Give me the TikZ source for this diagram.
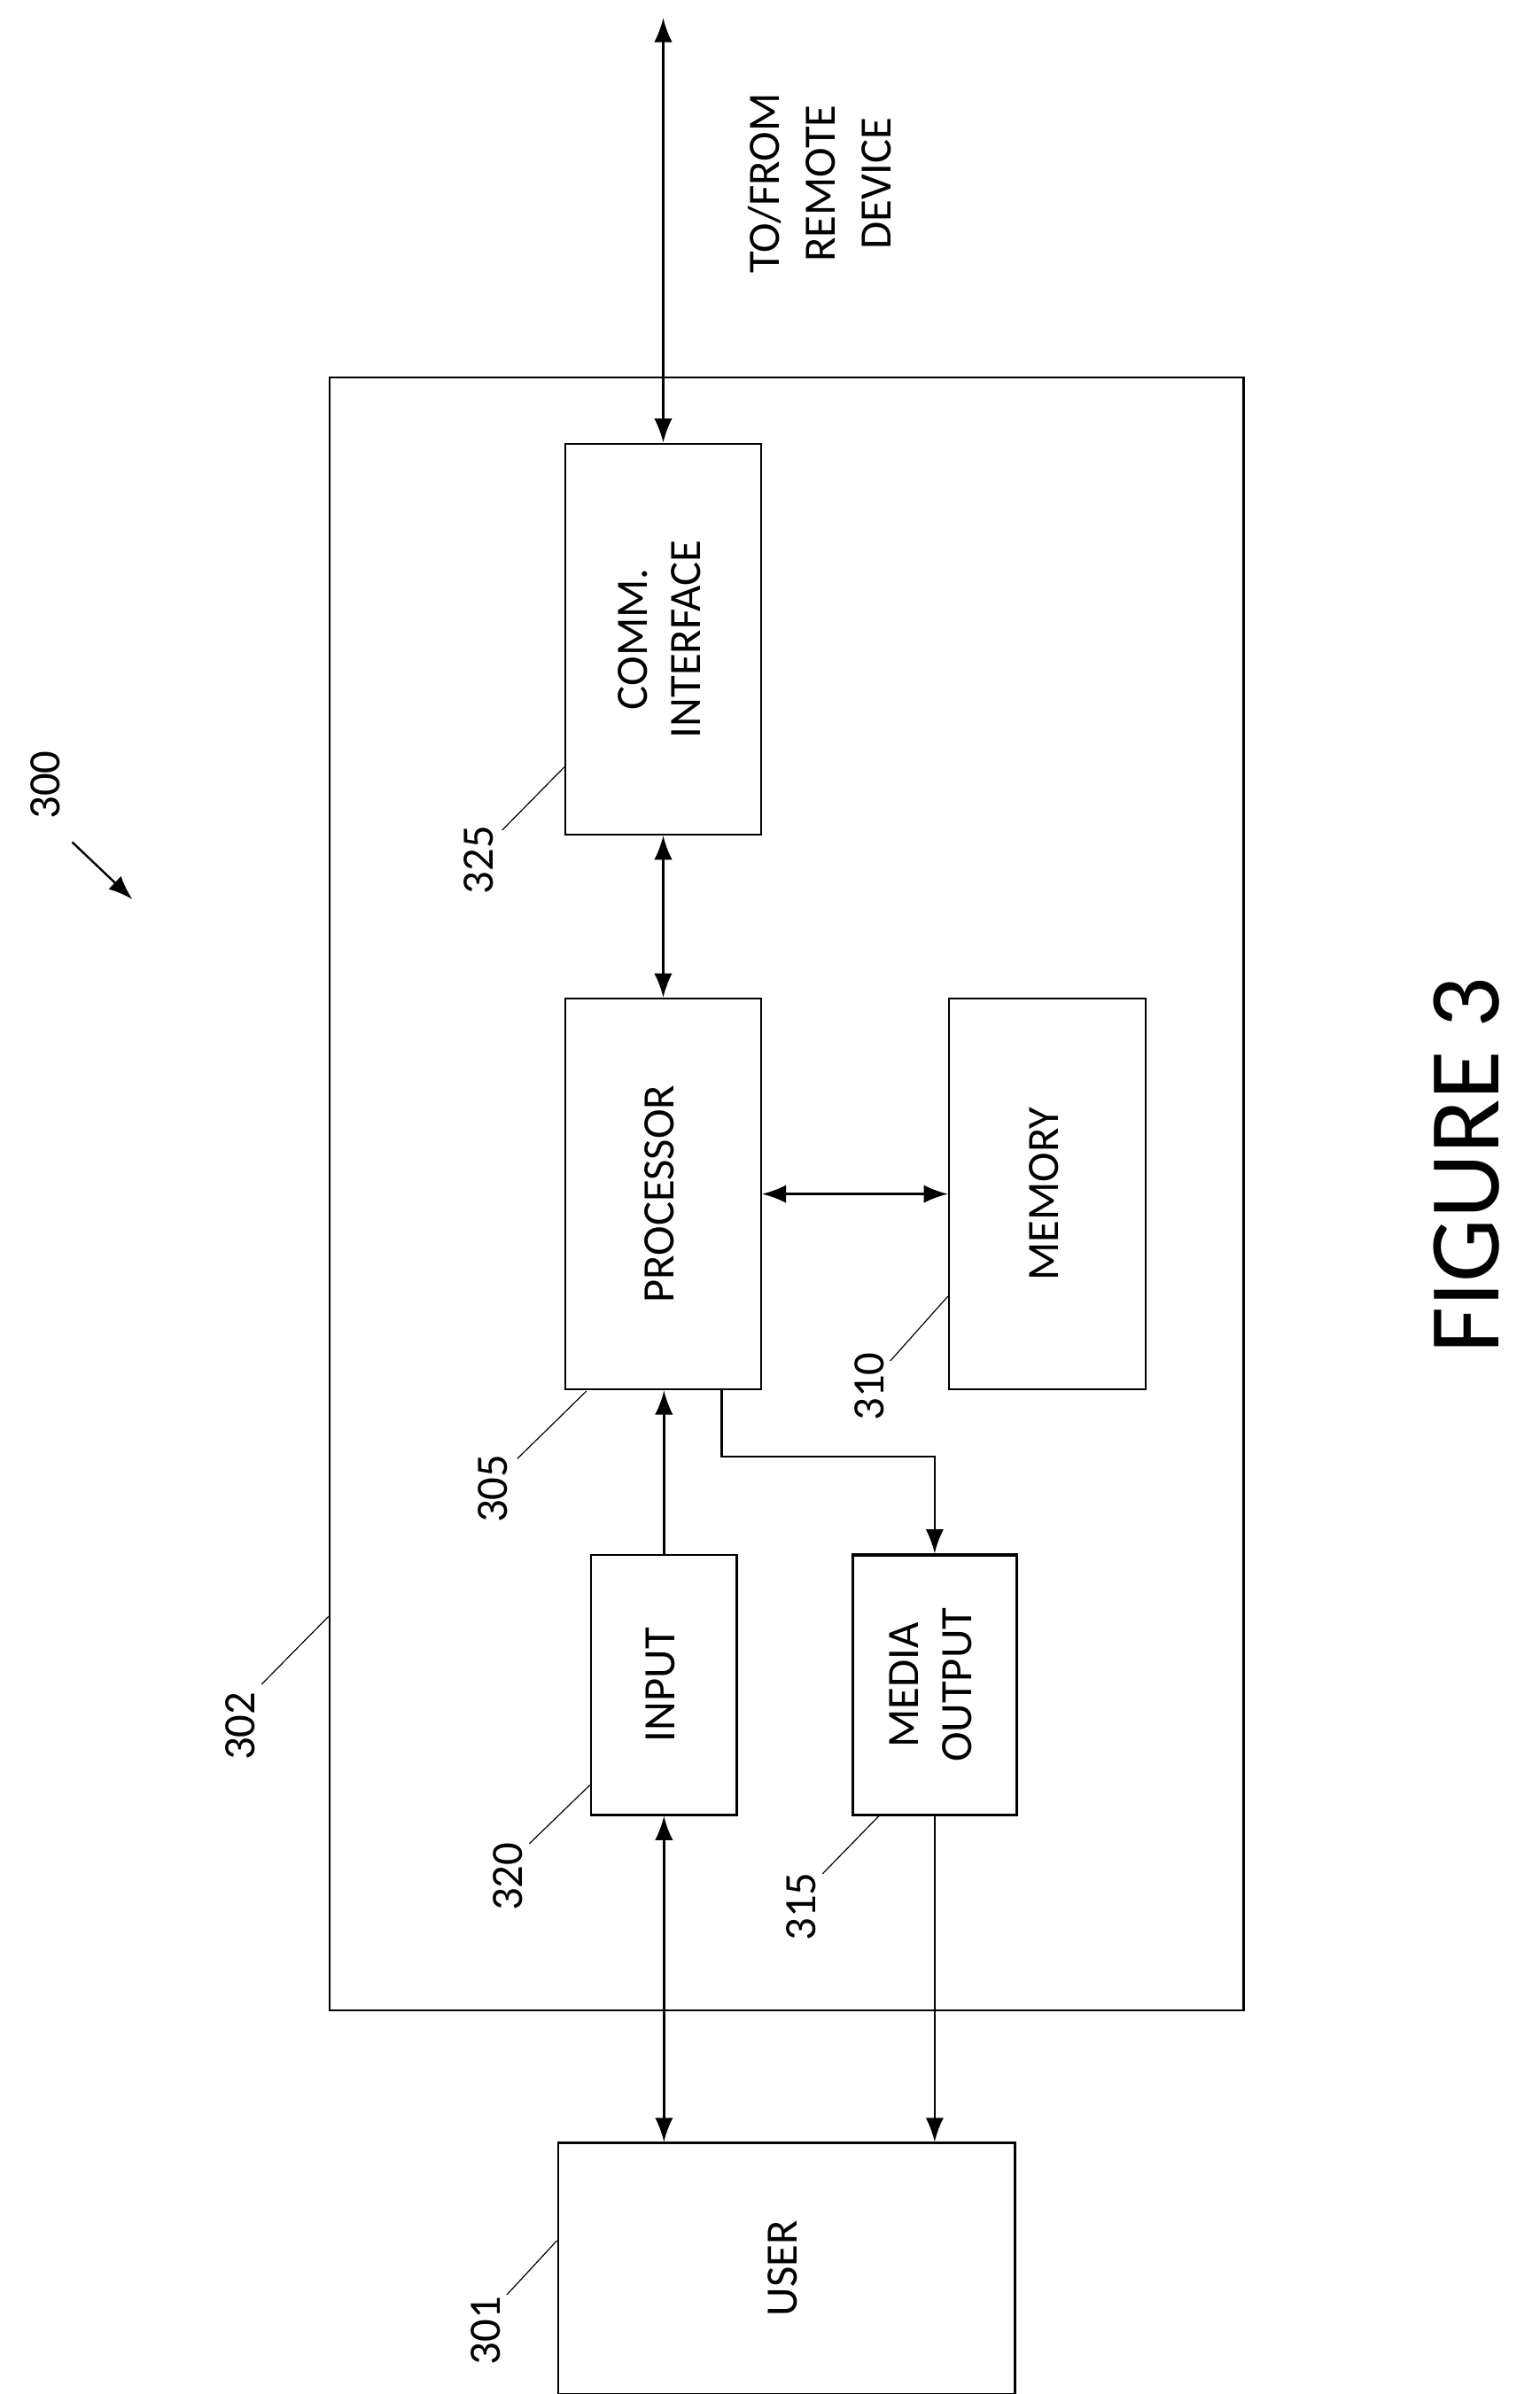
\documentclass[tikz,border=0pt]{standalone}
\usepackage{fontspec}
\setmainfont{Carlito}
\usetikzlibrary{arrows.meta, positioning, calc}

\tikzset{
  box/.style={draw, thick, rectangle, inner sep=0pt, align=center},
  link/.style={thick, {Latex[length=3.2mm,width=2.4mm]}-{Latex[length=3.2mm,width=2.4mm]}},
  flow/.style={thick, -{Latex[length=3.2mm,width=2.4mm]}},
  lead/.style={thin},
  num/.style={font=\fontsize{17}{20}\selectfont, rotate=90}
}
\newcommand{\rot}[1]{\rotatebox{90}{\fontsize{17}{20}\selectfont\begin{tabular}{c}#1\end{tabular}}}

\begin{document}
\begin{tikzpicture}[x=0.02cm, y=-0.02cm]
    \useasboundingbox (0,0) rectangle (1024,1592);

    % Device
    \node[box, minimum width=12.16cm, minimum height=21.72cm] (dev) at (523,794) {};

    % Blocks
    \node[box, minimum width=2.6cm, minimum height=5.2cm] (comm) at (441,425) {\rot{COMM.\\INTERFACE}};
    \node[box, minimum width=2.6cm, minimum height=5.2cm] (proc) at (441,794) {\rot{PROCESSOR}};
    \node[box, minimum width=2.62cm, minimum height=5.2cm] (mem) at (696.5,794) {\rot{MEMORY}};
    \node[box, minimum width=1.94cm, minimum height=3.46cm] (inp) at (441.5,1120.5) {\rot{INPUT}};
    \node[box, very thick, minimum width=2.18cm, minimum height=3.46cm] (media) at (621.5,1120.5) {\rot{MEDIA\\OUTPUT}};
    \node[box, minimum width=6.08cm, minimum height=3.34cm] (user) at (523,1508.5) {\rot{USER}};

    % Connectors
    \coordinate (remote) at (441,12);
    \draw[link] (remote) -- (comm.north);
    \draw[link] (comm.south) -- (proc.north);
    \draw[link] (proc.east) -- (mem.west);
    \draw[flow] (inp.north) -- (inp.north |- proc.south);
    \draw[flow] ($(proc.south)+(39,0)$) -- ++(0,44) -| (media.north);
    \draw[link] (inp.south) -- (inp.south |- user.north);
    \draw[flow] (media.south) -- (media.south |- user.north);

    % Labels
    \node[rotate=90, align=center, font=\fontsize{17}{21}\selectfont] (rlabel) at (545,122) {TO/FROM\\REMOTE\\DEVICE};
    \node[rotate=90, font=\fontsize{38}{44}\selectfont] (fig) at (975,775) {FIGURE 3};

    \node[num] (n300) at (30,522) {300};
    \draw[flow] (48,560) -- (88,598);
    \node[num] (n325) at (318,572) {325};
    \draw[lead] (334,552) -- (comm.west |- 0,510);
    \node[num] (n305) at (328,990) {305};
    \draw[lead] (344,970) -- (390,925);
    \node[num] (n310) at (578,922) {310};
    \draw[lead] (592,905) -- (mem.west |- 0,862);
    \node[num] (n302) at (160,1148) {302};
    \draw[lead] (174,1120) -- (dev.west |- 0,1075);
    \node[num] (n320) at (338,1248) {320};
    \draw[lead] (352,1226) -- (inp.west |- 0,1187);
    \node[num] (n315) at (533,1268) {315};
    \draw[lead] (547,1246) -- (585,1207);
    \node[num] (n301) at (323,1550) {301};
    \draw[lead] (337,1526) -- (user.west |- 0,1490);
\end{tikzpicture}
\end{document}
